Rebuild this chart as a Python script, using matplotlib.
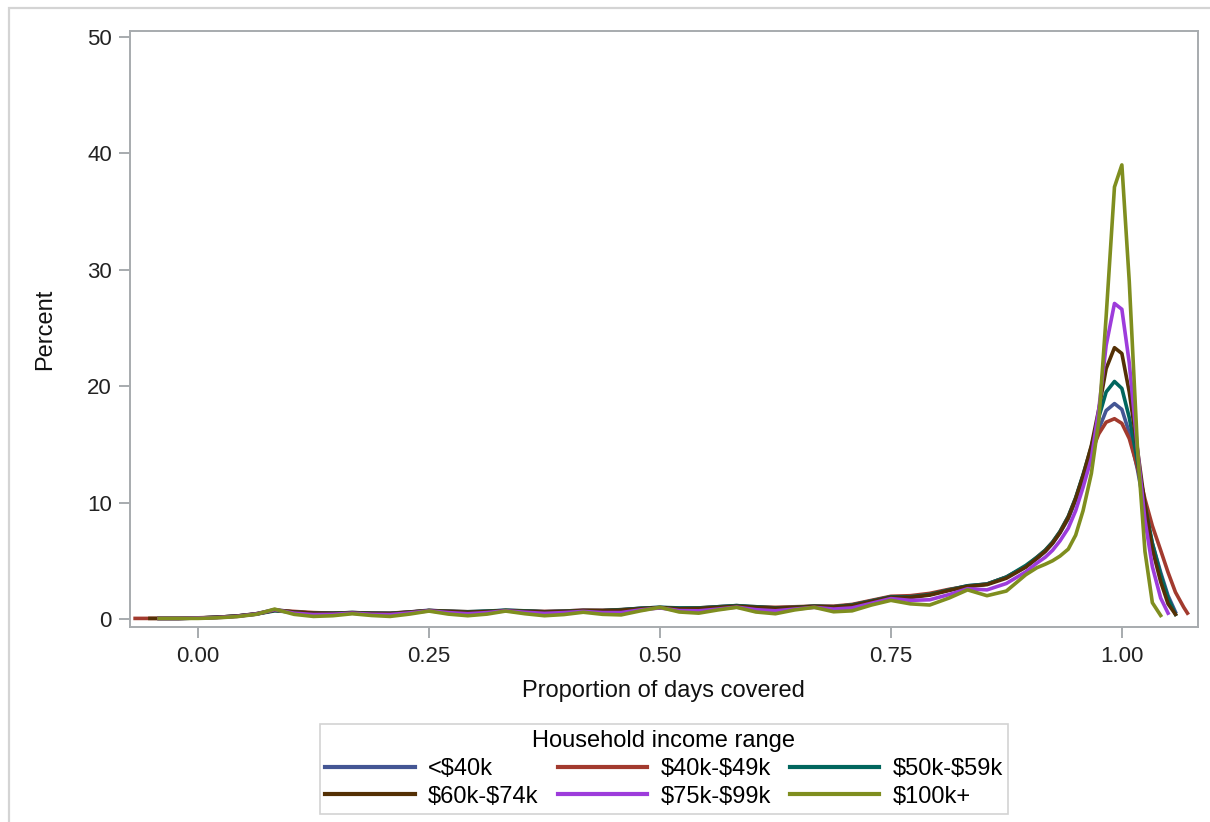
import numpy as np
import matplotlib
matplotlib.use("Agg")
import matplotlib.pyplot as plt
from matplotlib.patches import Rectangle

nan = np.nan

# proportion of days covered (kernel density grid)
pdc = [-0.068, -0.052, -0.042, -0.021, 0.000, 0.021, 0.042, 0.063, 0.083, 0.104,
       0.125, 0.146, 0.167, 0.188, 0.208, 0.229, 0.250, 0.271, 0.292, 0.313,
       0.333, 0.354, 0.375, 0.396, 0.417, 0.438, 0.458, 0.479, 0.500, 0.521,
       0.542, 0.563, 0.583, 0.604, 0.625, 0.646, 0.667, 0.688, 0.708, 0.729,
       0.750, 0.771, 0.792, 0.813, 0.833, 0.854, 0.875, 0.896,
       0.908, 0.917, 0.925, 0.933, 0.942, 0.950, 0.958, 0.967, 0.975, 0.983, 0.992,
       1.000, 1.008, 1.017, 1.025, 1.033, 1.042, 1.050, 1.058, 1.067, 1.071]

inc_lt40 = [nan, nan, 0.05, 0.05, 0.08, 0.15, 0.25, 0.45, 0.80, 0.60,
            0.50, 0.48, 0.55, 0.48, 0.48, 0.60, 0.75, 0.65, 0.60, 0.65,
            0.75, 0.68, 0.62, 0.68, 0.75, 0.72, 0.78, 0.92, 1.00, 0.90,
            0.92, 1.05, 1.15, 1.00, 0.95, 1.00, 1.10, 1.05, 1.20, 1.55,
            1.90, 1.90, 2.10, 2.50, 2.85, 3.00, 3.60, 4.50,
            5.2, 5.8, 6.5, 7.4, 8.6, 10.2, 12.1, 14.3, 16.3, 17.9, 18.5,
            18.0, 16.0, 12.8, 9.3, 6.5, 4.0, 2.0, 0.6, nan, nan]

inc_40_49 = [0.05, 0.05, 0.05, 0.05, 0.10, 0.15, 0.25, 0.45, 0.75, 0.65,
             0.55, 0.50, 0.55, 0.50, 0.50, 0.60, 0.72, 0.68, 0.62, 0.65,
             0.72, 0.70, 0.65, 0.68, 0.75, 0.75, 0.80, 0.90, 0.95, 0.90,
             0.95, 1.05, 1.10, 1.05, 1.00, 1.05, 1.10, 1.10, 1.25, 1.60,
             1.95, 2.00, 2.20, 2.55, 2.80, 3.00, 3.60, 4.50,
             5.3, 5.9, 6.6, 7.5, 8.8, 10.4, 12.3, 14.3, 15.9, 16.9, 17.2,
             16.8, 15.5, 13.0, 10.3, 8.0, 5.9, 4.0, 2.3, 1.0, 0.5]

inc_50_59 = [nan, nan, 0.05, 0.05, 0.08, 0.15, 0.25, 0.42, 0.70, 0.60,
             0.50, 0.50, 0.55, 0.50, 0.48, 0.58, 0.72, 0.66, 0.62, 0.68,
             0.75, 0.70, 0.62, 0.66, 0.72, 0.72, 0.80, 0.92, 1.00, 0.95,
             0.95, 1.05, 1.15, 1.05, 0.95, 1.00, 1.10, 1.05, 1.20, 1.55,
             1.90, 1.90, 2.10, 2.50, 2.85, 3.00, 3.60, 4.60,
             5.3, 5.9, 6.6, 7.5, 8.8, 10.4, 12.4, 14.8, 17.3, 19.5, 20.4,
             19.8, 17.3, 13.5, 9.8, 6.5, 3.8, 1.8, 0.4, nan, nan]

inc_60_74 = [nan, 0.05, 0.05, 0.05, 0.08, 0.15, 0.25, 0.42, 0.75, 0.60,
             0.50, 0.48, 0.52, 0.48, 0.45, 0.58, 0.72, 0.64, 0.58, 0.64,
             0.72, 0.66, 0.60, 0.64, 0.72, 0.70, 0.76, 0.88, 0.98, 0.88,
             0.90, 1.00, 1.10, 1.00, 0.92, 0.98, 1.08, 1.02, 1.15, 1.50,
             1.85, 1.85, 2.05, 2.45, 2.80, 2.95, 3.50, 4.45,
             5.2, 5.8, 6.5, 7.4, 8.7, 10.3, 12.3, 14.9, 18.0, 21.5, 23.3,
             22.8, 19.5, 14.5, 9.8, 6.0, 3.2, 1.3, 0.4, nan, nan]

inc_75_99 = [nan, nan, 0.05, 0.05, 0.08, 0.12, 0.22, 0.42, 0.80, 0.50,
             0.38, 0.40, 0.50, 0.40, 0.38, 0.52, 0.70, 0.55, 0.45, 0.55,
             0.70, 0.58, 0.48, 0.55, 0.65, 0.55, 0.55, 0.78, 0.95, 0.72,
             0.70, 0.85, 1.02, 0.80, 0.70, 0.85, 1.00, 0.85, 0.95, 1.35,
             1.75, 1.60, 1.65, 2.10, 2.60, 2.50, 3.05, 4.05,
             4.8, 5.3, 5.9, 6.7, 7.8, 9.3, 11.3, 13.8, 18.0, 23.5, 27.1,
             26.6, 22.0, 14.5, 8.5, 4.5, 1.8, 0.5, nan, nan, nan]

inc_100 = [nan, nan, 0.05, 0.05, 0.05, 0.10, 0.20, 0.40, 0.85, 0.40,
           0.22, 0.28, 0.45, 0.30, 0.22, 0.42, 0.68, 0.42, 0.28, 0.42,
           0.68, 0.45, 0.28, 0.38, 0.58, 0.40, 0.35, 0.70, 1.00, 0.60,
           0.50, 0.78, 1.00, 0.60, 0.45, 0.78, 1.00, 0.62, 0.70, 1.20,
           1.60, 1.30, 1.20, 1.80, 2.50, 2.00, 2.40, 3.80,
           4.4, 4.7, 5.0, 5.4, 6.0, 7.2, 9.3, 12.5, 17.0, 26.0, 37.1,
           39.0, 29.0, 14.5, 5.8, 1.4, 0.3, nan, nan, nan, nan]

labels = ["<$40k", "$40k-$49k", "$50k-$59k", "$60k-$74k", "$75k-$99k", "$100k+"]
series = [inc_lt40, inc_40_49, inc_50_59, inc_60_74, inc_75_99, inc_100]
colors = ["#445694", "#A23A2E", "#01665E", "#543005", "#9D3CDB", "#7F8E1F"]

plt.rcParams['font.family'] = ['Liberation Sans', 'DejaVu Sans']

fig = plt.figure(figsize=(12.1, 8.22), dpi=100)
ax = fig.add_axes([0.1074, 0.2372, 0.8826, 0.7251])

handles = []
for vals, lab, col in zip(series, labels, colors):
    h, = ax.plot(pdc, vals, color=col, lw=2.6, label=lab.replace("$", r"\$"),
                 solid_joinstyle='round')
    handles.append(h)

ax.set_xlim(-0.0736, 1.0823)
ax.set_ylim(-0.69, 50.5)
ax.set_xticks([0, 0.25, 0.5, 0.75, 1.0])
ax.set_xticklabels(["0.00", "0.25", "0.50", "0.75", "1.00"])
ax.set_yticks([0, 10, 20, 30, 40, 50])

frame = "#a7abae"
for s in ax.spines.values():
    s.set_color(frame)
    s.set_linewidth(1.4)
ax.tick_params(axis='both', colors=frame, labelcolor="#222222", labelsize=16,
               length=8, width=1.4)
ax.tick_params(axis='x', pad=6)
ax.tick_params(axis='y', pad=5)

ax.set_xlabel("Proportion of days covered", fontsize=17, color="#111111", labelpad=9)
ax.set_ylabel("Percent", fontsize=17, color="#111111", labelpad=22)

# legend is filled row by row in the original
order = [0, 3, 1, 4, 2, 5]
leg = fig.legend([handles[i] for i in order], [handles[i].get_label() for i in order],
                 loc='upper center', ncol=3,
                 title="Household income range", fontsize=17, title_fontsize=17,
                 frameon=True, fancybox=False, handlelength=3.8, handletextpad=0.55,
                 columnspacing=0.8, labelspacing=0.25, borderpad=0.25,
                 borderaxespad=0)
leg.set_bbox_to_anchor((664 / 1210, 1 - 724 / 822), transform=fig.transFigure)
leg.get_frame().set_edgecolor("#c8c8c8")
leg.get_frame().set_linewidth(1.2)
for line in leg.get_lines():
    line.set_linewidth(3)

# outer border of the graph area
fig.patches.append(Rectangle((9 / 1210, -0.01), 1.05, 1 - 8 / 822 + 0.01,
                             transform=fig.transFigure, fill=False,
                             edgecolor="#d4d4d4", lw=1.6))

fig.savefig("out.png", dpi=100)
